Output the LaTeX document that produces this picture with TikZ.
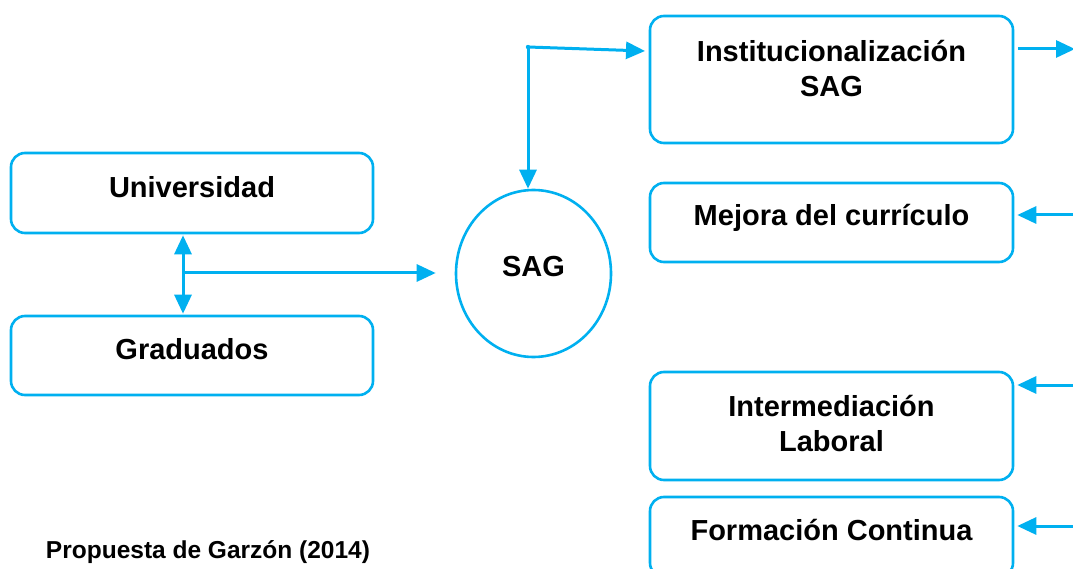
\documentclass[tikz,border=0pt]{standalone}
\usepackage{fontspec}
\setmainfont{Liberation Sans}
\usetikzlibrary{arrows.meta,calc,shapes.geometric}
\definecolor{sagblue}{RGB}{0,176,240}
\begin{document}
\begin{tikzpicture}[x=1pt,y=-1pt,
  box/.style={draw=sagblue,line width=2.6pt,rounded corners=14pt,fill=white,
    minimum width=362pt,inner sep=0pt},
  txt/.style={inner sep=0pt,align=center,font=\fontsize{29}{35}\selectfont\bfseries},
  tip/.style={Triangle[length=19pt,width=17pt]},
  conn/.style={draw=sagblue,line width=3pt,-{Triangle[length=19pt,width=17pt]}},
  dconn/.style={draw=sagblue,line width=3pt,{Triangle[length=19pt,width=17pt]}-{Triangle[length=19pt,width=17pt]}}]
\useasboundingbox (0,0) rectangle (1073,569);
\clip (0,0) rectangle (1073,569);
\fill[white] (0,0) rectangle (1073,569);
% left boxes
\node[box,minimum height=80pt] (uni) at (192,193) {};
\node[txt] (unit) at (192,187) {Universidad};
\node[box,minimum height=79pt] (grad) at (192,355.5) {};
\node[txt] (gradt) at (192,349.5) {Graduados};
% SAG circle
\node[draw=sagblue,line width=2.6pt,ellipse,minimum width=155pt,minimum height=167pt,inner sep=0pt] (sag) at (533.5,273.5) {};
\node[txt] (sagt) at (533.5,266.5) {SAG};
% right boxes
\node[box,minimum width=363pt,minimum height=127pt] (inst) at (831.5,79.5) {};
\node[txt] (instt) at (831.5,69) {Institucionalización\\SAG};
\node[box,minimum width=363pt,minimum height=79pt] (mej) at (831.5,222.5) {};
\node[txt] (mejt) at (831.5,217.5) {Mejora del currículo};
\node[box,minimum width=363pt,minimum height=108pt] (inter) at (831.5,426) {};
\node[txt] (intert) at (831.5,424) {Intermediación\\Laboral};
\node[box,minimum width=363pt,minimum height=80pt] (form) at (831.5,537) {};
\node[txt] (formt) at (831.5,530) {Formación Continua};
% caption
\node[inner sep=0pt,font=\fontsize{24.5}{29}\selectfont\bfseries] (cap) at (208,552.5) {Propuesta de Garzón (2014)};
% connectors
\coordinate (j) at (183,273);
\draw[dconn] ($(j |- uni.south)+(0,1)$) -- ($(j |- grad.north)+(0,-1)$);
\draw[conn,shorten >=19pt] (j) -- (j -| sag.west);
\coordinate (k) at (528,47);
\coordinate (ki) at (645,51);
\fill[sagblue] (k) circle (2.2pt);
\draw[conn] (k) -- (k |- sag.north);
\draw[conn] (k) -- (ki);
\coordinate (r1) at (1075,49);
\draw[conn,shorten <=4pt] (r1 -| inst.east) -- (r1);
\coordinate (r2) at (1073,215);
\draw[conn,shorten >=3pt] (r2) -- (r2 -| mej.east);
\coordinate (r3) at (1073,385);
\draw[conn,shorten >=3pt] (r3) -- (r3 -| inter.east);
\coordinate (r4) at (1073,526);
\draw[conn,shorten >=3pt] (r4) -- (r4 -| form.east);
\end{tikzpicture}
\end{document}
